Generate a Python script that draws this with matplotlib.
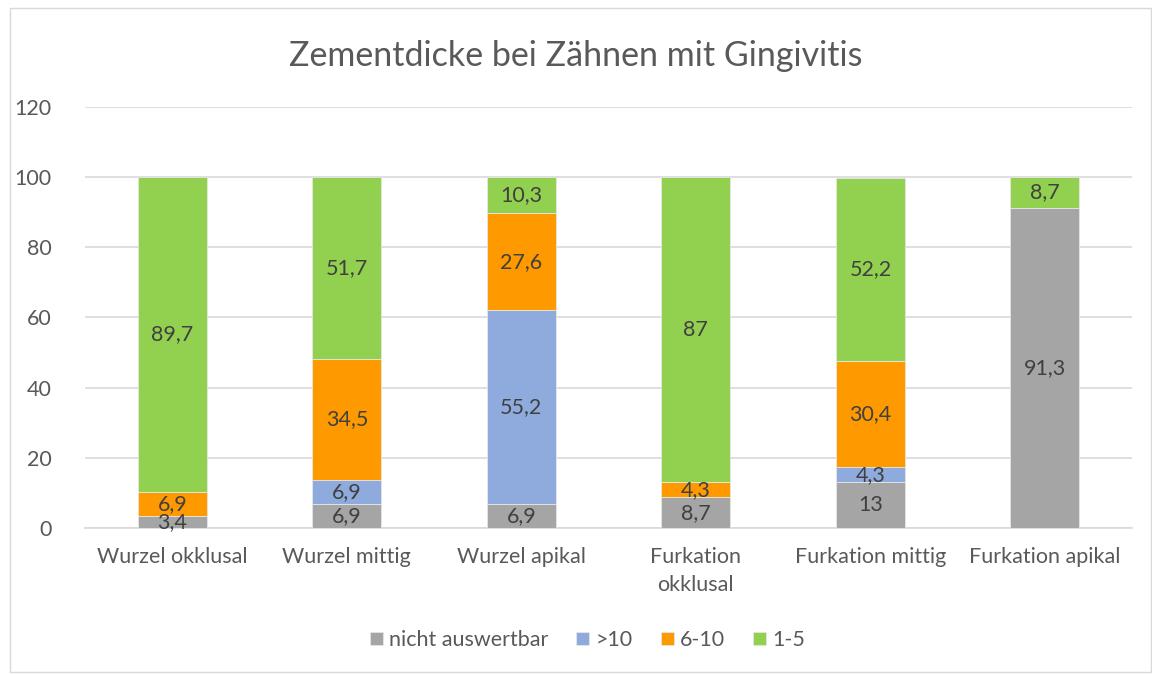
import matplotlib.pyplot as plt
from matplotlib.patches import Rectangle
import numpy as np

plt.rcParams['font.family'] = ['Lato', 'DejaVu Sans']

# Data
categories = ['Wurzel okklusal', 'Wurzel mittig', 'Wurzel apikal',
              'Furkation\nokklusal', 'Furkation mittig', 'Furkation apikal']
series_names = ['nicht auswertbar', '>10', '6-10', '1-5']
nicht_auswertbar = [3.4, 6.9, 6.9, 8.7, 13, 91.3]
gt10 = [0, 6.9, 55.2, 0, 4.3, 0]
r6_10 = [6.9, 34.5, 27.6, 4.3, 30.4, 0]
r1_5 = [89.7, 51.7, 10.3, 87, 52.2, 8.7]
yticks = [0, 20, 40, 60, 80, 100, 120]

colors = ['#A5A5A5', '#8FAADC', '#FF9900', '#92D050']
text_col = '#595959'

fig = plt.figure(figsize=(11.52, 6.75), dpi=100)
ax = fig.add_axes([0.0738, 0.2178, 0.909, 0.6237])

x = np.arange(len(categories))
bottom = np.zeros(len(categories))
for name, vals, c in zip(series_names, [nicht_auswertbar, gt10, r6_10, r1_5], colors):
    vals = np.array(vals, dtype=float)
    ax.bar(x, vals, 0.395, bottom=bottom, color=c, label=name,
           edgecolor='#E6E6E6', linewidth=0.6, zorder=3)
    for xi, b, v in zip(x, bottom, vals):
        if v > 0:
            txt = ('%g' % v).replace('.', ',')
            ax.text(xi, b + v / 2, txt, ha='center', va='center',
                    fontsize=15.5, color='#404040', zorder=4)
    bottom += vals

ax.set_xlim(-0.5, len(categories) - 0.5)
ax.set_ylim(0, 120)
ax.set_yticks(yticks)
ax.set_xticks(x)
ax.set_xticklabels(categories, fontsize=15.5, color=text_col, linespacing=1.45,
                   va='top')
ax.tick_params(axis='y', labelsize=15.5, labelcolor=text_col, length=0, pad=24)
ax.tick_params(axis='x', length=0, pad=14)
ax.grid(axis='y', color='#D9D9D9', linewidth=1.2, zorder=0)
for s in ['top', 'right', 'left']:
    ax.spines[s].set_visible(False)
ax.spines['bottom'].set_color('#D9D9D9')
ax.spines['bottom'].set_linewidth(1.2)

fig.suptitle('Zementdicke bei Zähnen mit Gingivitis', y=0.94, fontsize=24.5, color=text_col)

ax.legend(loc='center', bbox_to_anchor=(0.48, -0.266), ncol=4, frameon=False,
          fontsize=15.5, labelcolor=text_col, handlelength=0.6, handleheight=0.6,
          handletextpad=0.3, columnspacing=1.3)

fig.patches.append(Rectangle((0.009, 0.005), 0.99, 0.983, transform=fig.transFigure,
                             fill=False, edgecolor='#D9D9D9', linewidth=1))

fig.savefig('out.png', dpi=100)
